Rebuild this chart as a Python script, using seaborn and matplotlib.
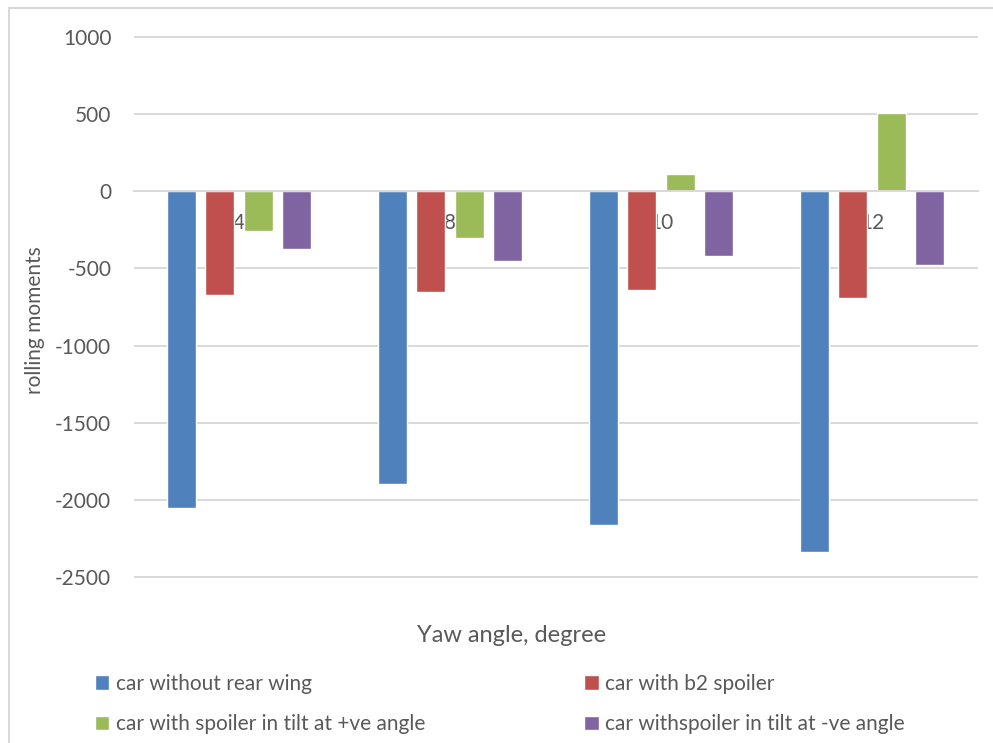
import matplotlib
matplotlib.use("Agg")
import matplotlib.pyplot as plt
from matplotlib.patches import Rectangle
import seaborn as sns
import pandas as pd

# Yaw angles (degrees) and rolling moments per configuration
yaw_angles = ["4", "8", "10", "12"]
series_names = [
    "car without rear wing",
    "car with b2 spoiler",
    "car with spoiler in tilt at +ve angle",
    "car withspoiler in tilt at -ve angle",
]
without_wing = [-2050, -1900, -2165, -2340]
b2_spoiler = [-675, -655, -640, -690]
tilt_positive = [-255, -300, 115, 505]
tilt_negative = [-375, -455, -420, -475]
colors = ["#4F81BD", "#C0504D", "#9BBB59", "#8064A2"]
y_ticks = [1000, 500, 0, -500, -1000, -1500, -2000, -2500]

values = [without_wing, b2_spoiler, tilt_positive, tilt_negative]
rows = []
for name, vals in zip(series_names, values):
    for angle, v in zip(yaw_angles, vals):
        rows.append({"yaw": angle, "moment": v, "config": name})
df = pd.DataFrame(rows)

sns.set_theme(style="white")
plt.rcParams["font.family"] = ["Lato", "DejaVu Sans"]
text_gray = "#595959"
grid_gray = "#d9d9d9"

fig = plt.figure(figsize=(9.93, 7.43), dpi=100)
W, H = 993, 743
ymin, ymax = -2560, 1060
px_per_unit = 540 / 3500
ax_top = 37 - (ymax - 1000) * px_per_unit
ax_bot = 577 + (-2500 - ymin) * px_per_unit
ax = fig.add_axes([133.5 / W, 1 - ax_bot / H, (977.5 - 133.5) / W, (ax_bot - ax_top) / H])

sns.barplot(
    data=df, x="yaw", y="moment", hue="config",
    order=yaw_angles, hue_order=series_names, palette=colors,
    width=0.726, gap=0.245, saturation=1, errorbar=None, ax=ax,
)

ax.set_ylim(ymin, ymax)
ax.set_xlim(-0.5, 3.5)
ax.set_yticks(y_ticks)
ax.set_yticklabels([str(t) for t in y_ticks])
ax.yaxis.grid(True, color=grid_gray, linewidth=1.4)
ax.xaxis.grid(False)
for s in ["top", "right", "left"]:
    ax.spines[s].set_visible(False)
# category labels sit on the zero line, underneath the bars
ax.spines["bottom"].set_position(("data", 0))
ax.spines["bottom"].set_color(grid_gray)
ax.spines["bottom"].set_linewidth(1.4)
ax.xaxis.set_zorder(0.5)
ax.set_axisbelow(True)
ax.tick_params(axis="x", length=0, pad=15.5, labelsize=15, labelcolor=text_gray)
ax.tick_params(axis="y", length=0, pad=16, labelsize=15, labelcolor=text_gray)
ax.set_xlabel("")
ax.set_ylabel("")

fig.text(35 / W, 1 - 320 / H, "rolling moments", rotation=90, ha="center", va="center",
         fontsize=15, color=text_gray)
fig.text(512 / W, 1 - 636 / H, "Yaw angle, degree", ha="center", va="center",
         fontsize=17, color=text_gray)

handles, labels = ax.get_legend_handles_labels()
ax.legend_.remove()
order = [0, 2, 1, 3]
fig.legend([handles[i] for i in order], [labels[i] for i in order],
           ncol=2, loc="upper left", bbox_to_anchor=(76 / W, 1 - 655 / H),
           frameon=False, fontsize=15, labelcolor=text_gray,
           handlelength=0.7, handleheight=0.7, handletextpad=0.3,
           columnspacing=7.65, labelspacing=0.98)

fig.patches.append(Rectangle((9 / W, -0.05), 1.2, 1 - 8 / H + 0.05,
                             transform=fig.transFigure, fill=False,
                             edgecolor="#d9d9d9", linewidth=1.5))

fig.savefig("out.png", dpi=100, facecolor="white")
